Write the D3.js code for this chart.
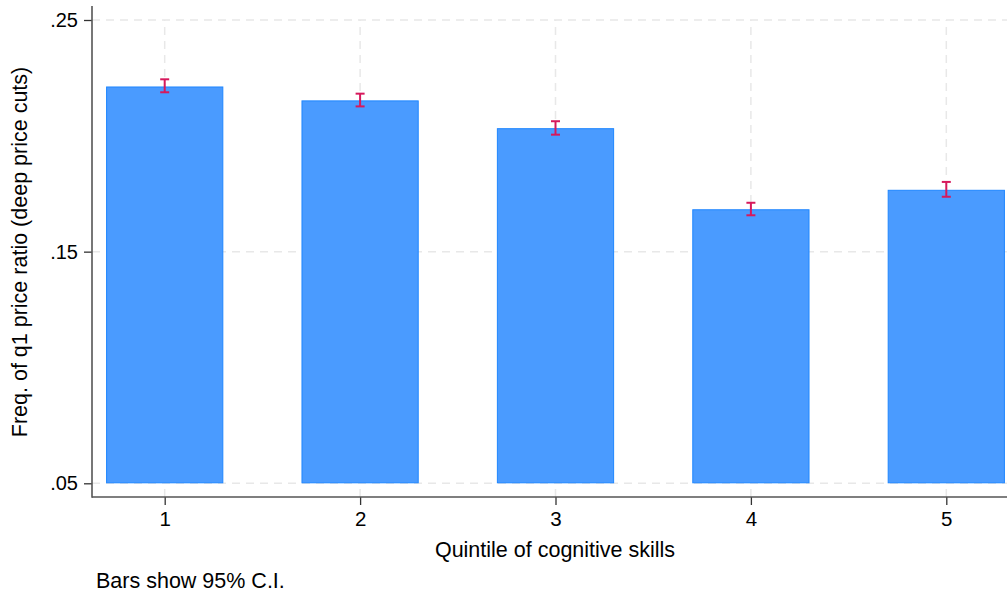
<!DOCTYPE html>
<html><head><meta charset="utf-8">
<script src="https://cdn.jsdelivr.net/npm/d3@7"></script>
<style>body{margin:0;background:#fff}svg{display:block}text{font-family:"Liberation Sans",Arial,Helvetica,sans-serif;fill:#000}</style>
</head><body><svg id="c" width="1007" height="595"></svg>
<script>
const quintiles = [1, 2, 3, 4, 5];
const freq = [0.2213, 0.2153, 0.2033, 0.1683, 0.1767];
const ciLow = [0.2188, 0.2127, 0.2005, 0.1657, 0.1737];
const ciHigh = [0.2244, 0.2182, 0.2063, 0.1711, 0.1801];
const yTicks = [0.05, 0.15, 0.25];
const yTickLabels = [".05", ".15", ".25"];
const base = 0.05;

const svg = d3.select("#c");
const left = 92, right = 1007, axisY = 497;
const x = d3.scaleLinear().domain([1, 5]).range([164.7, 946.3]);
const y = d3.scaleLinear().domain([0.05, 0.25]).range([483.3, 20]);
const step = x(2) - x(1);
const bw = step * 0.6;

// grid
const g = svg.append("g");
g.selectAll(".hg").data(yTicks).enter().append("line")
  .attr("x1", left).attr("x2", right).attr("y1", d => y(d)).attr("y2", d => y(d))
  .attr("stroke", "#e8e8e8").attr("stroke-width", 1.5).attr("stroke-dasharray", "8,6");
g.selectAll(".vg").data(quintiles).enter().append("line")
  .attr("x1", d => x(d)).attr("x2", d => x(d)).attr("y1", axisY).attr("y2", y(0.25))
  .attr("stroke", "#e8e8e8").attr("stroke-width", 1.5).attr("stroke-dasharray", "8,6");

// bars
svg.append("g").selectAll("rect").data(quintiles).enter().append("rect")
  .attr("x", (d) => x(d) - bw / 2 + 0.5)
  .attr("width", bw - 1)
  .attr("y", (d, i) => y(freq[i]) + 0.5)
  .attr("height", (d, i) => y(base) - y(freq[i]) - 1)
  .attr("fill", "#4a9bff").attr("stroke", "#1f86ff").attr("stroke-width", 1);

// error bars
const eb = svg.append("g").attr("stroke", "#d6195c").attr("stroke-width", 2);
quintiles.forEach((d, i) => {
  const cx = x(d);
  eb.append("line").attr("x1", cx).attr("x2", cx).attr("y1", y(ciHigh[i])).attr("y2", y(ciLow[i]));
  eb.append("line").attr("x1", cx - 4.5).attr("x2", cx + 4.5).attr("y1", y(ciHigh[i])).attr("y2", y(ciHigh[i]));
  eb.append("line").attr("x1", cx - 4.5).attr("x2", cx + 4.5).attr("y1", y(ciLow[i])).attr("y2", y(ciLow[i]));
});

// axes
const yAxis = d3.axisLeft(y).tickValues(yTicks).tickFormat((d, i) => yTickLabels[i]).tickSize(8).tickPadding(6);
const ya = svg.append("g").attr("transform", `translate(${left},0)`).call(yAxis);
ya.select(".domain").remove();
ya.append("line").attr("x1", 0).attr("x2", 0).attr("y1", 6).attr("y2", axisY + 0.75).attr("stroke", "#555").attr("stroke-width", 1.6);
ya.selectAll(".tick line").attr("stroke", "#333").attr("stroke-width", 1.3);
ya.selectAll(".tick text").attr("font-size", 20).attr("fill", "#000").style("font-family", "Liberation Sans, Arial, sans-serif");

const xAxis = d3.axisBottom(x).tickValues(quintiles).tickFormat(d3.format("d")).tickSize(8).tickPadding(6);
const xa = svg.append("g").attr("transform", `translate(0,${axisY})`).call(xAxis);
xa.select(".domain").remove();
xa.append("line").attr("x1", left).attr("x2", right).attr("y1", 0).attr("y2", 0).attr("stroke", "#555").attr("stroke-width", 1.6);
xa.selectAll(".tick line").attr("stroke", "#333").attr("stroke-width", 1.3);
xa.selectAll(".tick text").attr("font-size", 20.5).attr("fill", "#000").style("font-family", "Liberation Sans, Arial, sans-serif");

// titles
svg.append("text").attr("x", 555).attr("y", 557).attr("text-anchor", "middle").attr("font-size", 21.5)
  .text("Quintile of cognitive skills");
svg.append("text").attr("transform", "translate(27,252) rotate(-90)").attr("text-anchor", "middle").attr("font-size", 21.5)
  .text("Freq. of q1 price ratio (deep price cuts)");
svg.append("text").attr("x", 96).attr("y", 588).attr("font-size", 21.5).text("Bars show 95% C.I.");
</script></body></html>
